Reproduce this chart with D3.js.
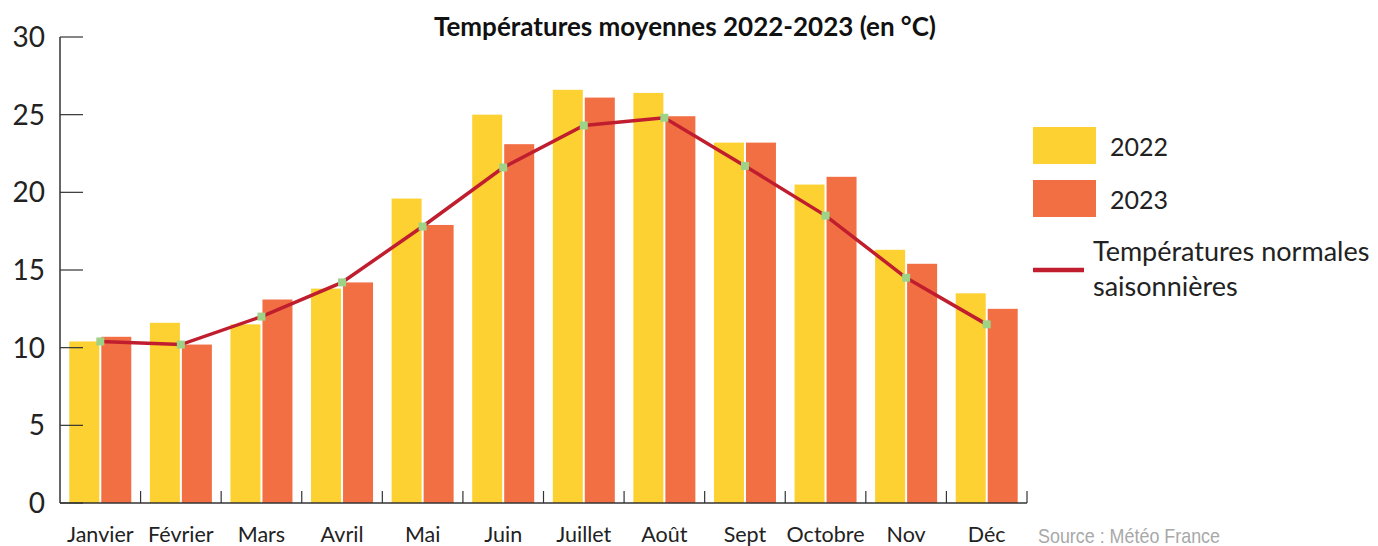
<!DOCTYPE html>
<html><head><meta charset="utf-8">
<script src="https://cdn.jsdelivr.net/npm/d3@7"></script>
<style>body{margin:0;background:#fff}svg{display:block}</style>
</head><body><svg id="c" width="1378" height="546"></svg>
<script>
const months = ["Janvier","Février","Mars","Avril","Mai","Juin","Juillet","Août","Sept","Octobre","Nov","Déc"];
const t2022 = [10.4,11.6,11.5,13.8,19.6,25.0,26.6,26.4,23.2,20.5,16.3,13.5];
const t2023 = [10.7,10.2,13.1,14.2,17.9,23.1,26.1,24.9,23.2,21.0,15.4,12.5];
const normals = [10.4,10.2,12.0,14.2,17.8,21.6,24.3,24.8,21.7,18.5,14.5,11.5];
const yTicks = [0,5,10,15,20,25,30];
const seriesNames = ["2022","2023"];

const font = "Lato, 'Open Sans', sans-serif";
const svg = d3.select("#c");
const x0 = 60, x1 = 1027, yTop = 37, yBot = 503;
const x = d3.scaleBand().domain(months).range([x0, x1]);
const y = d3.scaleLinear().domain([0,30]).range([yBot, yTop]);
const colors = ["#FCD131","#F26F44"];
const barW = 30, gap = 2;

// bars
months.forEach((m,i)=>{
  const c = x(m) + x.bandwidth()/2;
  [t2022[i], t2023[i]].forEach((v,k)=>{
    svg.append("rect")
      .attr("x", k===0 ? c - gap/2 - barW : c + gap/2)
      .attr("y", y(v)).attr("width", barW).attr("height", yBot - y(v))
      .attr("fill", colors[k]);
  });
});

// axes
svg.append("line").attr("x1",x0).attr("x2",x0).attr("y1",yTop).attr("y2",yBot).attr("stroke","#333").attr("stroke-width",1.5);
svg.append("line").attr("x1",x0).attr("x2",x1).attr("y1",yBot).attr("y2",yBot).attr("stroke","#333").attr("stroke-width",1.5);
yTicks.forEach(t=>{
  svg.append("line").attr("x1",x0).attr("x2",x0+23).attr("y1",y(t)).attr("y2",y(t)).attr("stroke","#333").attr("stroke-width",1.2);
  svg.append("text").attr("x",45).attr("y",y(t)).attr("dy","0.36em").attr("text-anchor","end")
    .attr("font-family",font).attr("font-size",28).attr("fill","#222").text(t);
});
months.forEach((m,i)=>{
  const bx = x(m) + x.bandwidth();
  svg.append("line").attr("x1",bx).attr("x2",bx).attr("y1",yBot).attr("y2",yBot-12).attr("stroke","#333").attr("stroke-width",1.2);
  svg.append("text").attr("x",x(m)+x.bandwidth()/2).attr("y",542).attr("text-anchor","middle")
    .attr("font-family",font).attr("font-size",21.5).attr("fill","#222").text(m);
});

// normals line
const line = d3.line().x((d,i)=>x(months[i])+x.bandwidth()/2).y(d=>y(d));
svg.append("path").datum(normals).attr("d",line).attr("fill","none").attr("stroke","#C01E2E").attr("stroke-width",3.5);
normals.forEach((v,i)=>{
  svg.append("rect").attr("x",x(months[i])+x.bandwidth()/2-4).attr("y",y(v)-4).attr("width",8).attr("height",8).attr("fill","#9ED287");
});

// title
svg.append("text").attr("x",685).attr("y",36).attr("text-anchor","middle").attr("font-family",font)
  .attr("font-weight","bold").attr("font-size",26).attr("fill","#111").text("Températures moyennes 2022-2023 (en °C)");

// legend
seriesNames.forEach((s,k)=>{
  const ly = 127 + k*53;
  svg.append("rect").attr("x",1033).attr("y",ly).attr("width",63).attr("height",37).attr("fill",colors[k]);
  svg.append("text").attr("x",1110).attr("y",ly+29).attr("font-family",font).attr("font-size",25).attr("fill","#222").text(s);
});
svg.append("line").attr("x1",1033).attr("x2",1084).attr("y1",270).attr("y2",270).attr("stroke","#C01E2E").attr("stroke-width",4.5);
svg.append("text").attr("x",1093).attr("y",261).attr("font-family",font).attr("font-size",27).attr("fill","#222").text("Températures normales");
svg.append("text").attr("x",1093).attr("y",296).attr("font-family",font).attr("font-size",27).attr("fill","#222").text("saisonnières");

// source
svg.append("text").attr("x",1038).attr("y",543).attr("font-family","'Liberation Sans Narrow', 'Liberation Sans', sans-serif")
  .attr("font-size",21).attr("fill","#A8A8A8").attr("textLength",182).attr("lengthAdjust","spacingAndGlyphs").text("Source : Météo France");
</script></body></html>
